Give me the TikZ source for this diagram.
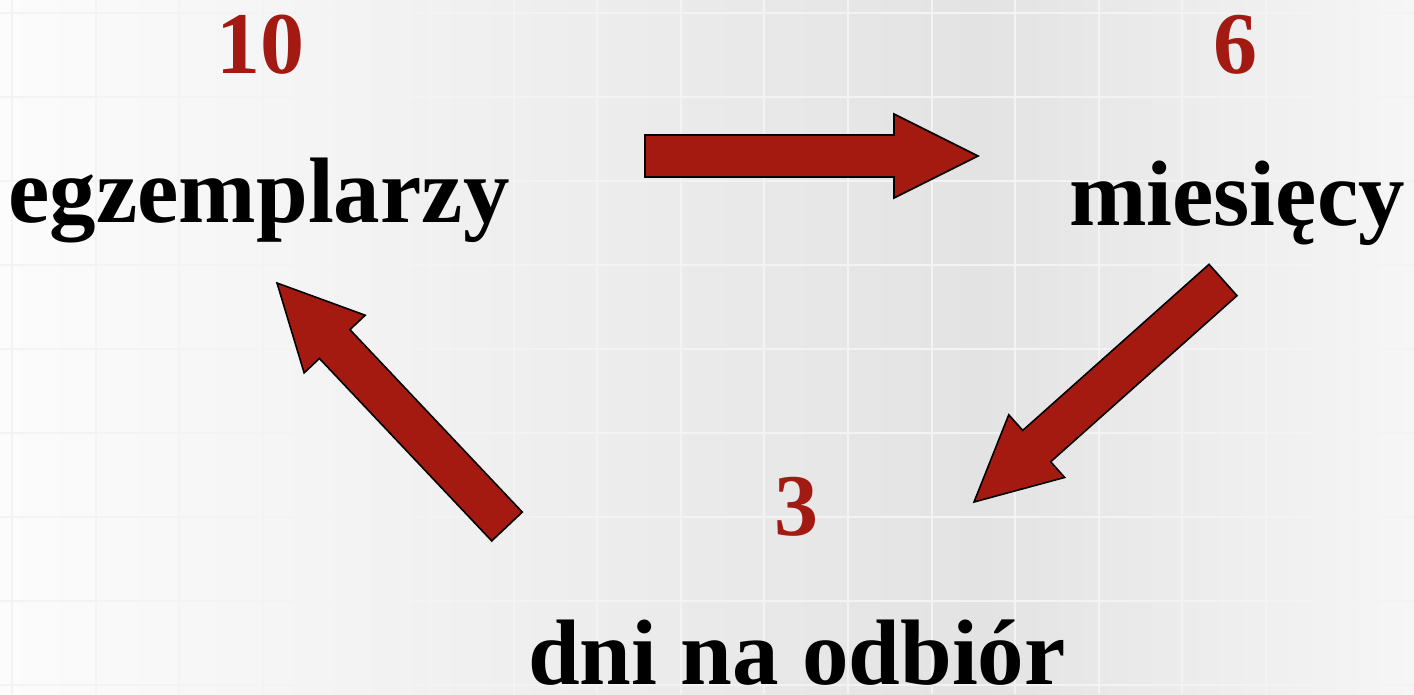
\documentclass[tikz,border=0pt]{standalone}
\usepackage{fontspec}
\setmainfont{Liberation Serif}
\usetikzlibrary{calc}
\definecolor{arrowred}{HTML}{A51A10}
\definecolor{numred}{HTML}{A31A12}
\definecolor{bgleft}{HTML}{FCFCFC}
\definecolor{bgmid}{HTML}{E3E3E3}
\definecolor{bgright}{HTML}{F6F6F6}
\definecolor{gridc}{HTML}{F3F3F3}
\tikzset{
  lbl/.style={anchor=base, inner sep=0pt, font=\fontsize{93}{110}\selectfont\bfseries, text=black},
  num/.style={anchor=base, inner sep=0pt, font=\fontsize{88}{100}\selectfont\bfseries, text=numred},
  blockarrow/.style={fill=arrowred, draw=black, line width=1.6pt, line join=miter},
  gridline/.style={draw=gridc, line width=2pt}
}
\newcommand{\blockarrow}[2]{%
  \path ($(#2)!84pt!(#1)$) coordinate (H);
  \draw[blockarrow] ($(#1)!21pt!90:(#2)$) -- ($(H)!21pt!90:(#2)$) -- ($(H)!42pt!90:(#2)$)
    -- (#2) -- ($(H)!42pt!-90:(#2)$) -- ($(H)!21pt!-90:(#2)$) -- ($(#1)!21pt!-90:(#2)$) -- cycle;}
\begin{document}
\begin{tikzpicture}[x=1pt,y=-1pt]
\useasboundingbox (0,0) rectangle (1414,694);
% background
\fill[left color=bgleft, right color=bgmid] (0,0) rectangle (980,694);
\fill[left color=bgmid, right color=bgright] (980,0) rectangle (1414,694);
\foreach \i in {0,...,16} \draw[gridline] ({12+83.6*\i},0) -- ({12+83.6*\i},694);
\foreach \j in {0,...,8} \draw[gridline] (0,{12.5+84.1*\j}) -- (1414,{12.5+84.1*\j});
% labels
\node[num] (n10) at (260,73) {10};
\node[lbl] (egz) at (259,222) {egzemplarzy};
\node[num] (n6) at (1235,73) {6};
\node[lbl] (mies) at (1237,225) {miesięcy};
\node[num] (n3) at (796,535) {3};
\node[lbl] (dni) at (797,684) {dni na odbiór};
% arrows
\coordinate (tailA) at (645,156);
\coordinate (tipA) at (978,156);
\coordinate (tailB) at (1223,280);
\coordinate (tipB) at (974,502);
\coordinate (tailC) at (507,526.5);
\coordinate (tipC) at (277,283);
\blockarrow{tailA}{tipA}
\blockarrow{tailB}{tipB}
\blockarrow{tailC}{tipC}
\end{tikzpicture}
\end{document}
